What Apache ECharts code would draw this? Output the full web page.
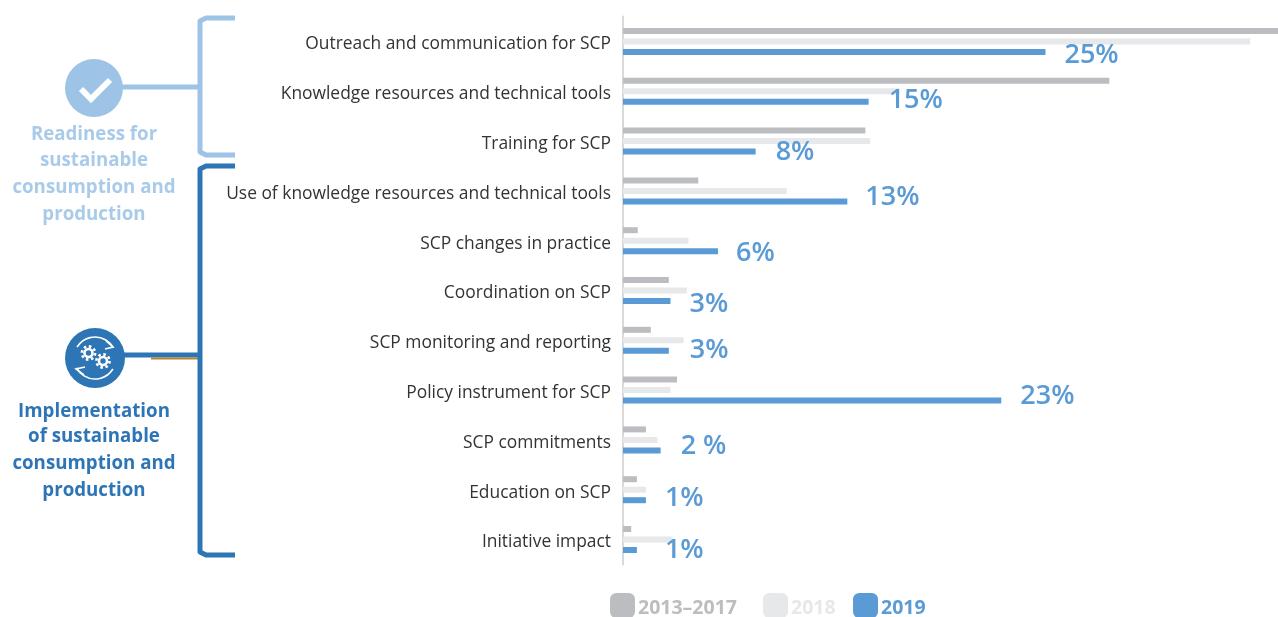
<!DOCTYPE html>
<html><head><meta charset="utf-8">
<style>html,body{margin:0;padding:0;background:#fff;overflow:hidden}#c{width:1278px;height:617px}</style>
<script src="https://cdn.jsdelivr.net/npm/echarts@6/dist/echarts.min.js"></script>
</head><body><div id="c"></div>
<script>
const categories = ['Outreach and communication for SCP','Knowledge resources and technical tools','Training for SCP','Use of knowledge resources and technical tools','SCP changes in practice','Coordination on SCP','SCP monitoring and reporting','Policy instrument for SCP','SCP commitments','Education on SCP','Initiative impact'];
const y2013_2017 = [40, 29.7, 14.8, 4.6, 0.9, 2.8, 1.7, 3.3, 1.4, 0.85, 0.5];
const y2018 = [38.3, 16.9, 15.1, 10, 4, 3.9, 3.7, 2.9, 2.1, 1.4, 3];
const y2019 = [25.8, 15, 8.1, 13.7, 5.8, 2.9, 2.8, 23.1, 2.3, 1.4, 0.85];
const labels2019 = ['25%','15%','8%','13%','6%','3%','3%','23%','2 %','1%','1%'];
const legendNames = ['2013–2017','2018','2019'];
const labelNudge = [[0,3],[1,-1],[1,1],[-1,-4],[-1,2],[0,3],[2,0],[0,-4],[1,-4],[0,-2],[9,0]];
const legendLeft = [610,763,853];
const GRAY='#bcbdc0', LIGHT='#e7e8e9', BLUE='#5b9bd5', BR_L='#9dc3e6', BR_D='#2e75b6', TXT_L='#a9cbe9';
const legendColors = [GRAY,LIGHT,BLUE];
const F='"Open Sans", sans-serif';
const chart = echarts.init(document.getElementById('c'));
function bracket(x0,x1,y0,y1,c){return {type:'polyline',shape:{points:[[x1,y0],[x0+6,y0],[x0,y0+3],[x0,y1-3],[x0+6,y1],[x1,y1]]},style:{stroke:c,lineWidth:5,fill:null,lineJoin:'round'},z:1};}
function lines(arr,y,c){return arr.map((t,i)=>({type:'text',x:94,y:y[i],style:{text:t,fill:c,font:'bold 18.7px '+F,textAlign:'center',textVerticalAlign:'middle'}}));}
function gear(x,y){return [
 {type:'circle',shape:{cx:x,cy:y,r:4},style:{fill:null,stroke:'#fff',lineWidth:2.6}},
 {type:'circle',shape:{cx:x,cy:y,r:6.6},style:{fill:null,stroke:'#fff',lineWidth:2.6,lineDash:[2.6,2.6]}}];}
const wl={stroke:'#fff',lineWidth:1.6,fill:null};
chart.setOption({
 animation:false,
 grid:{left:623,right:0,top:16.6,height:547.8,containLabel:false},
 xAxis:{type:'value',min:0,max:40,show:false},
 yAxis:{type:'category',inverse:true,data:categories,
  axisLine:{show:true,lineStyle:{color:'#d9d9d9',width:2}},axisTick:{show:false},splitLine:{show:false},
  axisLabel:{color:'#333',fontFamily:F,fontSize:17.4,margin:12,interval:0,verticalAlign:'top',lineHeight:6}},
 legend:legendNames.map((n,i)=>({left:legendLeft[i],top:593,itemWidth:25,itemHeight:25,padding:0,icon:'roundRect',
  itemStyle:{borderWidth:0},data:[n],formatter:'{a|{name}}',
  textStyle:{color:legendColors[i],rich:{a:{color:legendColors[i],fontFamily:F,fontWeight:'bold',fontSize:19.5,padding:[6,0,0,-2]}}}})),
 series:[
  {name:legendNames[0],type:'bar',data:y2013_2017,barWidth:6,barGap:'75%',itemStyle:{color:GRAY}},
  {name:legendNames[1],type:'bar',data:y2018,barWidth:6,itemStyle:{color:LIGHT}},
  {name:legendNames[2],type:'bar',data:y2019.map((v,i)=>({value:v,label:{offset:labelNudge[i]}})),barWidth:6,itemStyle:{color:BLUE},
   label:{show:true,position:'right',distance:19,color:BLUE,fontFamily:F,fontSize:27,fontWeight:600,
    formatter:p=>labels2019[p.dataIndex]}}
 ],
 graphic:{elements:[
  bracket(200,235,18,155,BR_L),
  bracket(200,235,166,555,BR_D),
  {type:'line',shape:{x1:120,y1:87,x2:200,y2:87},style:{stroke:BR_L,lineWidth:5}},
  {type:'line',shape:{x1:120,y1:355,x2:200,y2:355},style:{stroke:BR_D,lineWidth:5}},
  {type:'line',shape:{x1:151,y1:358.5,x2:198,y2:358.5},style:{stroke:'#b8862d',lineWidth:2}},
  {type:'circle',shape:{cx:94,cy:88,r:29},style:{fill:BR_L}},
  {type:'polyline',shape:{points:[[81,89],[91,99],[110,80]]},style:{stroke:'#fff',lineWidth:6,fill:null}},
  {type:'circle',shape:{cx:95,cy:358,r:30},style:{fill:BR_D}},
  ...gear(88.5,353),...gear(103,361),
  {type:'arc',shape:{cx:95,cy:358,r:21,startAngle:-2.6,endAngle:-0.5,clockwise:true},style:wl},
  {type:'polyline',shape:{points:[[106,341],[113,347],[105,349]]},style:wl},
  {type:'arc',shape:{cx:95,cy:358,r:21,startAngle:0.55,endAngle:2.65,clockwise:true},style:wl},
  {type:'polyline',shape:{points:[[84,375],[76,369],[85,367]]},style:wl},
  ...lines(['Readiness for','sustainable','consumption and','production'],[135,161,188,215],TXT_L),
  ...lines(['Implementation','of sustainable','consumption and','production'],[412,437,464,491],BR_D)
 ]}
});
</script></body></html>
